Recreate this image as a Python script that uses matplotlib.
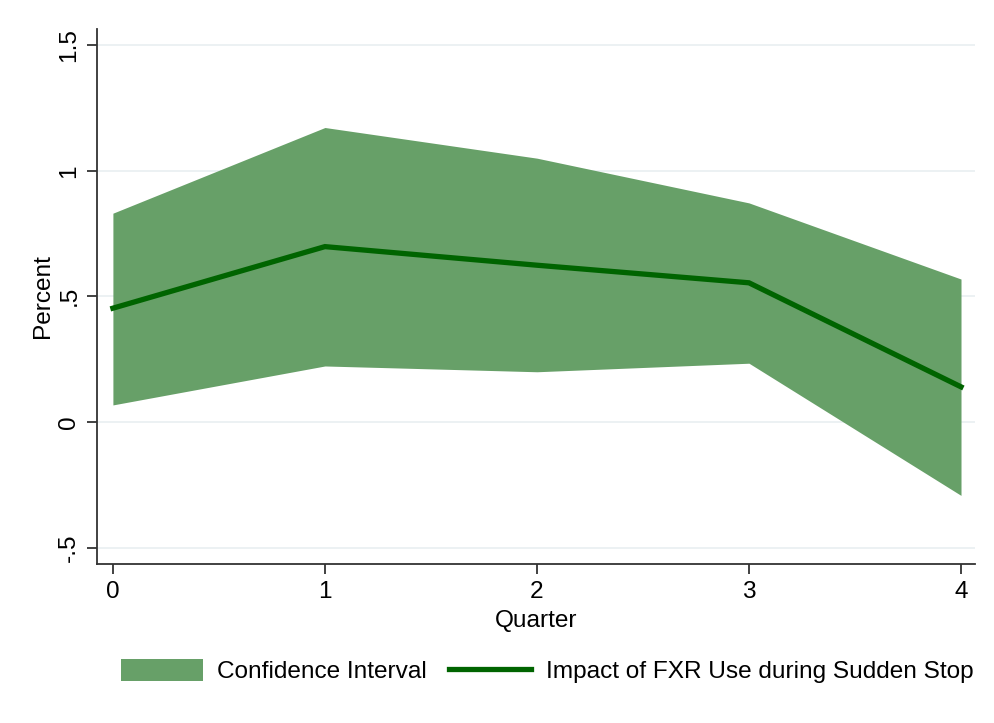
#!/usr/bin/env python

import numpy as np
import matplotlib as mpl
import matplotlib.pyplot as plt
from matplotlib.patches import Patch
from matplotlib.lines import Line2D

mpl.rc('font', family=['Liberation Sans', 'DejaVu Sans'], size=17.6)
mpl.rc('savefig', dpi=100)

quarter = [0, 1, 2, 3, 4]
impact = [0.453, 0.698, 0.624, 0.554, 0.140]
ci_upper = [0.831, 1.172, 1.050, 0.872, 0.569]
ci_lower = [0.068, 0.223, 0.200, 0.234, -0.292]

yticks = [-0.5, 0, 0.5, 1, 1.5]
ytick_labels = ['-.5', '0', '.5', '1', '1.5']

fill_color = '#67a068'
line_color = '#006400'
grid_color = '#eaf0f2'
axis_color = '#333333'


def main() -> None:

    fig = plt.figure(figsize=(9.95, 7.23), dpi=100)
    ax = fig.add_axes([97/995, 1-564/723, (975-97)/995, (564-29)/723])

    ax.fill_between(
        quarter,
        ci_lower,
        ci_upper,
        color=fill_color,
        lw=0,
        zorder=2,
    )

    ax.plot(
        quarter,
        impact,
        lw=3.8,
        color=line_color,
        solid_joinstyle='miter',
        zorder=3,
    )

    for y in yticks:
        ax.axhline(y=y, lw=1.3, color=grid_color, zorder=1)

    ax.set_xlim(-0.075, 4.066)
    ax.set_ylim(-0.565, 1.564)

    ax.set_xticks(quarter)
    ax.set_yticks(yticks)
    ax.set_yticklabels(ytick_labels, rotation=90, va='center')

    for side in ('top', 'right'):
        ax.spines[side].set_visible(False)
    for side in ('left', 'bottom'):
        ax.spines[side].set_color(axis_color)
        ax.spines[side].set_linewidth(1.3)

    ax.tick_params(
        axis='both',
        direction='out',
        length=7,
        width=1.3,
        color=axis_color,
        labelsize=17.6,
        pad=5,
    )

    ax.set_xlabel('Quarter', fontsize=17.6, labelpad=5)
    ax.set_ylabel('Percent', fontsize=17.6, labelpad=3)

    handles = [
        Patch(facecolor=fill_color, edgecolor='none'),
        Line2D([0], [0], color=line_color, lw=3.8),
    ]
    labels = ['Confidence Interval', 'Impact of FXR Use during Sudden Stop']

    fig.legend(
        handles,
        labels,
        ncol=2,
        loc='center',
        bbox_to_anchor=(547/995, 1-671/723),
        frameon=False,
        fontsize=17.6,
        handlelength=3.35,
        handleheight=1.0,
        handletextpad=0.6,
        columnspacing=0.9,
    )

    fig.savefig('out.png', dpi=100)

    return


if __name__ == '__main__':
    main()
